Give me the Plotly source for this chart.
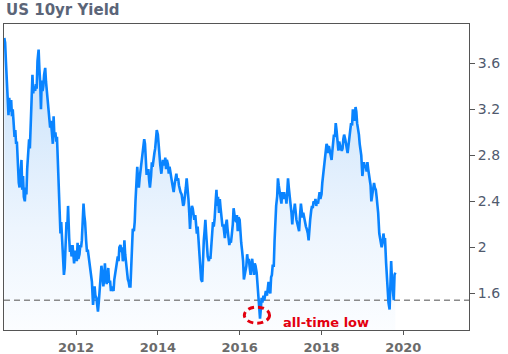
import pandas as pd
import plotly.graph_objects as go

# ---- data: US 10yr yield, 4 readings per month (days 1, 8, 15, 22) ----
y2010 = [  # Apr-Dec
    3.82, 3.78, 3.62, 3.48,  3.35, 3.15, 3.30, 3.18,  3.28, 3.14, 3.20, 3.02,
    2.96, 3.02, 2.90, 2.92,  2.62, 2.56, 2.52, 2.66,  2.76, 2.50, 2.62, 2.44,
    2.40, 2.52, 2.46, 2.68,  2.80, 2.94, 2.86, 3.00,  3.30, 3.50, 3.34, 3.40]
y2011 = [
    3.36, 3.42, 3.38, 3.62,  3.72, 3.55, 3.44, 3.20,  3.45, 3.36, 3.40, 3.50,
    3.56, 3.44, 3.36, 3.28,  3.20, 3.14, 3.04, 3.10,  2.96, 2.90, 3.14, 2.96,
    3.00, 2.92, 2.96, 2.80,  2.56, 2.30, 2.12, 2.22,  2.00, 1.90, 1.76, 1.82,
    2.10, 2.22, 2.16, 2.36,  2.08, 1.96, 2.02, 1.92,  2.02, 1.94, 1.86, 1.96]
y2012 = [
    1.96, 1.88, 2.04, 1.90,  1.94, 2.02, 2.00, 2.06,  2.20, 2.38, 2.28, 2.22,
    2.05, 1.96, 1.98, 1.92,  1.88, 1.80, 1.74, 1.70,  1.50, 1.62, 1.66, 1.58,
    1.56, 1.50, 1.44, 1.52,  1.66, 1.72, 1.84, 1.78,  1.66, 1.72, 1.86, 1.74,
    1.68, 1.76, 1.82, 1.70,  1.70, 1.62, 1.66, 1.64,  1.62, 1.72, 1.76, 1.80]
y2013 = [
    1.86, 1.92, 1.88, 2.00,  2.02, 1.96, 2.00, 1.88,  1.90, 2.06, 1.94, 1.86,
    1.80, 1.72, 1.70, 1.66,  1.66, 1.86, 2.00, 2.16,  2.14, 2.22, 2.40, 2.56,
    2.70, 2.58, 2.52, 2.60,  2.68, 2.76, 2.84, 2.88,  2.94, 2.90, 2.74, 2.64,
    2.64, 2.68, 2.58, 2.52,  2.62, 2.74, 2.70, 2.78,  2.82, 2.86, 2.94, 3.02]
y2014 = [
    2.98, 2.86, 2.80, 2.72,  2.64, 2.70, 2.76, 2.72,  2.72, 2.78, 2.68, 2.76,
    2.72, 2.64, 2.70, 2.66,  2.62, 2.56, 2.52, 2.48,  2.56, 2.62, 2.64, 2.58,
    2.60, 2.54, 2.50, 2.48,  2.46, 2.42, 2.36, 2.38,  2.44, 2.52, 2.60, 2.54,
    2.42, 2.30, 2.16, 2.28,  2.36, 2.34, 2.30, 2.24,  2.28, 2.14, 2.12, 2.18]
y2015 = [
    2.00, 1.90, 1.80, 1.72,  1.70, 1.96, 2.06, 2.14,  2.24, 2.12, 1.98, 1.92,
    1.88, 1.92, 1.90, 2.02,  2.14, 2.22, 2.18, 2.24,  2.40, 2.50, 2.36, 2.44,
    2.30, 2.42, 2.34, 2.26,  2.18, 2.20, 2.12, 2.08,  2.20, 2.24, 2.16, 2.10,
    2.02, 2.06, 2.04, 2.10,  2.20, 2.34, 2.28, 2.24,  2.22, 2.28, 2.14, 2.26]
y2016 = [
    2.24, 2.10, 2.04, 1.98,  1.88, 1.72, 1.76, 1.80,  1.84, 1.94, 1.88, 1.90,
    1.78, 1.76, 1.86, 1.90,  1.82, 1.76, 1.86, 1.84,  1.78, 1.68, 1.62, 1.50,
    1.38, 1.46, 1.56, 1.52,  1.58, 1.54, 1.58, 1.62,  1.58, 1.68, 1.70, 1.62,
    1.60, 1.74, 1.76, 1.84,  1.84, 2.06, 2.32, 2.36,  2.44, 2.60, 2.54, 2.48]
y2017 = [
    2.44, 2.38, 2.48, 2.42,  2.48, 2.42, 2.46, 2.38,  2.48, 2.60, 2.52, 2.42,
    2.36, 2.30, 2.20, 2.30,  2.32, 2.38, 2.26, 2.24,  2.20, 2.18, 2.14, 2.26,
    2.38, 2.32, 2.26, 2.30,  2.24, 2.20, 2.18, 2.16,  2.12, 2.06, 2.20, 2.24,
    2.32, 2.36, 2.34, 2.40,  2.38, 2.42, 2.36, 2.40,  2.38, 2.44, 2.48, 2.42]
y2018 = [
    2.46, 2.56, 2.62, 2.66,  2.78, 2.86, 2.90, 2.88,  2.82, 2.88, 2.84, 2.78,
    2.76, 2.84, 2.92, 2.98,  2.96, 3.08, 3.02, 2.94,  2.84, 2.92, 2.88, 2.86,
    2.84, 2.86, 2.94, 2.98,  2.94, 2.88, 2.86, 2.82,  2.90, 2.98, 3.00, 3.08,
    3.06, 3.20, 3.16, 3.10,  3.22, 3.18, 3.08, 3.04,  2.98, 2.90, 2.84, 2.80]
y2019 = [  # Jan-Oct
    2.62, 2.72, 2.74, 2.70,  2.70, 2.66, 2.74, 2.68,  2.64, 2.60, 2.54, 2.40,
    2.48, 2.54, 2.56, 2.52,  2.50, 2.44, 2.38, 2.30,  2.12, 2.08, 2.04, 2.00,
    2.04, 2.12, 2.06, 2.08,  1.86, 1.72, 1.58, 1.52,  1.46, 1.62, 1.88, 1.72,
    1.64, 1.54, 1.76, 1.78]

year_blocks = [(2010, 4, y2010), (2011, 1, y2011), (2012, 1, y2012), (2013, 1, y2013),
               (2014, 1, y2014), (2015, 1, y2015), (2016, 1, y2016), (2017, 1, y2017),
               (2018, 1, y2018), (2019, 1, y2019)]
reading_days = [1, 8, 15, 22]

ref_level = 1.54          # dashed reference line
y_ticks = [1.6, 2.0, 2.4, 2.8, 3.2, 3.6]
y_tick_text = ["1.6", "2", "2.4", "2.8", "3.2", "3.6"]
x_range = ["2010-03-29", "2021-08-10"]
y_range = [1.281, 3.942]
annotation_text = "all-time low"
title_text = "US 10yr Yield"

# ---- build series ----
dates, vals = [], []
for yr, m0, arr in year_blocks:
    for i, v in enumerate(arr):
        m = m0 + i // 4
        d = reading_days[i % 4]
        dates.append(pd.Timestamp(yr, m, d))
        vals.append(v)

s = pd.Series(vals, index=dates)
low_2016 = s["2016"].idxmin()
low_val = s["2016"].min()

fig = go.Figure()
fig.add_trace(go.Scatter(
    x=dates, y=vals, mode="lines", line=dict(width=0, color="rgba(0,0,0,0)"),
    fill="tozeroy",
    fillgradient=dict(type="vertical",
                      colorscale=[[0, "#fbfdff"], [0.35, "#edf5fe"], [1, "#c6e0fa"]],
                      start=y_range[0], stop=3.8),
    hoverinfo="skip", showlegend=False))
fig.add_trace(go.Scatter(
    x=x_range, y=[ref_level, ref_level], mode="lines",
    line=dict(color="#8a8a8a", width=1.5, dash="6px,4px"),
    hoverinfo="skip", showlegend=False))
fig.add_trace(go.Scatter(
    x=dates, y=vals, mode="lines", line=dict(color="#0a84ff", width=2.6),
    showlegend=False))

# red dashed ellipse around the all-time low
fig.add_shape(type="circle", xref="x", yref="y",
              x0=low_2016 - pd.Timedelta(days=140), x1=low_2016 + pd.Timedelta(days=85),
              y0=low_val - 0.04, y1=low_val + 0.10,
              line=dict(color="#e3000f", width=3, dash="6px,4px"))
fig.add_annotation(x=low_2016 + pd.Timedelta(days=185), y=low_val - 0.035,
                   xref="x", yref="y", text=annotation_text, showarrow=False,
                   xanchor="left", yanchor="middle",
                   font=dict(family="DejaVu Sans", size=13, color="#e3000f", weight="bold"))
# title
fig.add_annotation(x=0, y=1 + (24 - 10) / 306, xref="paper", yref="paper",
                   text=title_text, showarrow=False, xanchor="left", yanchor="middle",
                   font=dict(family="DejaVu Sans", size=15, color="#5b6578", weight="bold"))

fig.update_layout(
    width=508, height=354,
    margin=dict(l=4, r=39, t=24, b=24, autoexpand=False),
    paper_bgcolor="white", plot_bgcolor="white",
    showlegend=False,
    font=dict(family="DejaVu Sans"),
)
fig.update_xaxes(
    type="date", range=x_range, tick0="2012-01-01", dtick="M24", tickformat="%Y",
    ticks="outside", ticklen=4, tickcolor="#555", showline=True, linecolor="#555",
    linewidth=1, mirror=True, showgrid=False, zeroline=False, ticklabelstandoff=1,
    automargin=False,
    tickfont=dict(family="DejaVu Sans", size=13, color="#6b6b6b", weight="bold"))
fig.update_yaxes(
    side="right", range=y_range, tickvals=y_ticks, ticktext=y_tick_text,
    ticks="outside", ticklen=5, tickcolor="#555", showline=True, linecolor="#555",
    linewidth=1, mirror=True, showgrid=False, zeroline=False, automargin=False,
    tickfont=dict(family="DejaVu Sans", size=14, color="#505a6e"))

fig.write_html("out.html")
